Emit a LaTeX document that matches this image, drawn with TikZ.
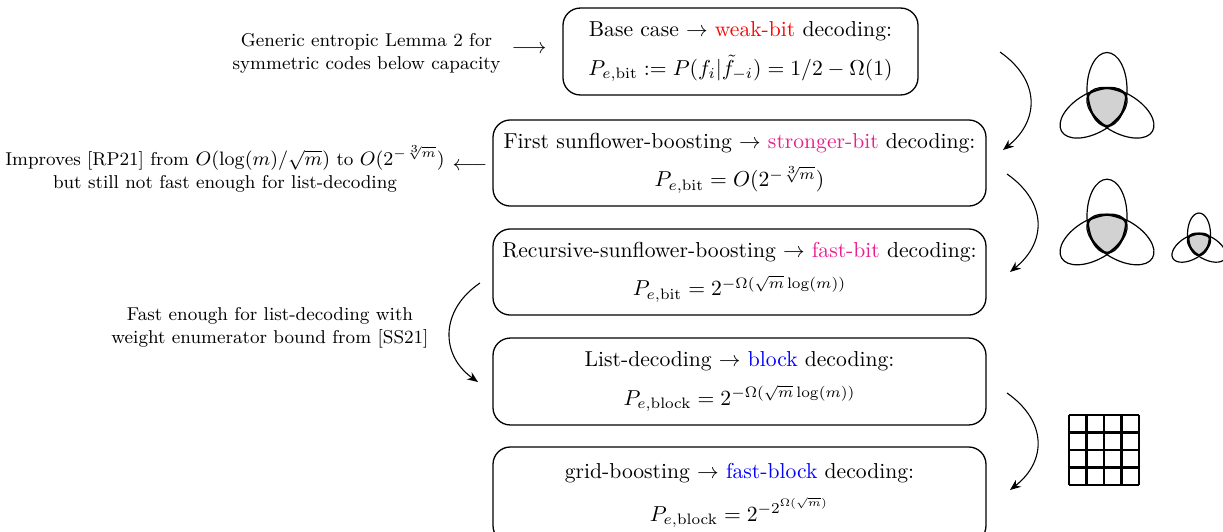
\documentclass[tikz,border=0pt]{standalone}
\usepackage{amsmath,amssymb}
\usetikzlibrary{arrows.meta}
\definecolor{wk}{rgb}{1,0,0}
\definecolor{mg}{RGB}{232,30,140}
\definecolor{bl}{rgb}{0,0,1}
\tikzset{
  stagebox/.style={draw, rounded corners=8pt, line width=0.6pt, align=center, inner sep=0pt},
  note/.style={align=center, inner sep=0pt, font=\fontsize{8.6pt}{10.6pt}\selectfont},
  arrowglyph/.style={inner sep=0pt},
  curvearrow/.style={-{Stealth[length=5pt,width=4pt]}, line width=0.5pt},
  sunflower/.pic={
    \begin{scope}
      \clip (0,7.17pt) ellipse (9.25pt and 17.11pt);
      \clip[rotate=120] (0,7.17pt) ellipse (9.25pt and 17.11pt);
      \fill[gray!35,rotate=240] (0,7.17pt) ellipse (9.25pt and 17.11pt);
      \draw[line width=1.4pt] (0,7.17pt) ellipse (9.25pt and 17.11pt);
      \draw[line width=1.4pt,rotate=120] (0,7.17pt) ellipse (9.25pt and 17.11pt);
      \draw[line width=1.4pt,rotate=240] (0,7.17pt) ellipse (9.25pt and 17.11pt);
    \end{scope}
    \draw[line width=0.55pt] (0,7.17pt) ellipse (9.25pt and 17.11pt);
    \draw[line width=0.55pt,rotate=120] (0,7.17pt) ellipse (9.25pt and 17.11pt);
    \draw[line width=0.55pt,rotate=240] (0,7.17pt) ellipse (9.25pt and 17.11pt);
  }
}
\begin{document}
\begin{tikzpicture}[x=0.4625pt,y=-0.4625pt]
\useasboundingbox (0,0) rectangle (1223,531);

% boxes
\node[stagebox, minimum width=164.2pt, minimum height=40.2pt] (b1) at (740.5,51.5)
  {Base case $\rightarrow$ \textcolor{wk}{weak-bit} decoding:\\[6pt]
   $P_{e,\mathrm{bit}} := P(f_i|\tilde{f}_{-i}) = 1/2 - \Omega(1)$};
\node[stagebox, minimum width=228pt, minimum height=39.8pt] (b2) at (739.5,163)
  {First sunflower-boosting $\rightarrow$ \textcolor{mg}{stronger-bit} decoding:\\[6pt]
   $P_{e,\mathrm{bit}} = O(2^{-\sqrt[3]{m}})$};
\node[stagebox, minimum width=228pt, minimum height=39.8pt] (b3) at (739.5,272)
  {Recursive-sunflower-boosting $\rightarrow$ \textcolor{mg}{fast-bit} decoding:\\[6pt]
   $P_{e,\mathrm{bit}} = 2^{-\Omega(\sqrt{m}\log(m))}$};
\node[stagebox, minimum width=228pt, minimum height=40.2pt] (b4) at (739.5,381.5)
  {List-decoding $\rightarrow$ \textcolor{bl}{block} decoding:\\[6pt]
   $P_{e,\mathrm{block}} = 2^{-\Omega(\sqrt{m}\log(m))}$};
\node[stagebox, minimum width=228pt, minimum height=44.4pt] (b5) at (739.5,495)
  {grid-boosting $\rightarrow$ \textcolor{bl}{fast-block} decoding:\\[6pt]
   $P_{e,\mathrm{block}} = 2^{-2^{\Omega(\sqrt{m})}}$};

% left notes
\node[note] (n1) at (366.5,53.5) {Generic entropic Lemma 2 for\\symmetric codes below capacity};
\node[arrowglyph] (a1) at (529,50) {$\longrightarrow$};
\node[note] (n2) at (225,169) {Improves [RP21] from $O(\log(m)/\sqrt{m})$ to $O(2^{-\sqrt[3]{m}})$\\but still not fast enough for list-decoding};
\node[arrowglyph] (a2) at (470,167) {$\longleftarrow$};
\node[note] (n3) at (270,327.5) {Fast enough for list-decoding with\\weight enumerator bound from [SS21]};

% curved arrows
\coordinate (l1s) at (480,283);
\coordinate (l1e) at (478,382);
\draw[curvearrow] (l1s) .. controls (440,310) and (440,355) .. (l1e);

\coordinate (r1s) at (1000,52);
\coordinate (r1e) at (1003,150);
\draw[curvearrow] (r1s) .. controls (1040,80) and (1040,120) .. (r1e);
\coordinate (r2s) at (1007,174);
\coordinate (r2e) at (1010,272);
\draw[curvearrow] (r2s) .. controls (1047,202) and (1047,242) .. (r2e);
\coordinate (r3s) at (1007,393);
\coordinate (r3e) at (1010,490);
\draw[curvearrow] (r3s) .. controls (1047,421) and (1047,461) .. (r3e);

% sunflowers
\pic at (1107,105) {sunflower};
\pic at (1107,231.7) {sunflower};
\pic[scale=0.575] at (1199,243.2) {sunflower};

% grid
\foreach \i in {0,...,4} {
  \draw[line width=1pt] (1069+17.5*\i,415) -- (1069+17.5*\i,485);
  \draw[line width=1pt] (1069,415+17.5*\i) -- (1139,415+17.5*\i);
}
\end{tikzpicture}
\end{document}
